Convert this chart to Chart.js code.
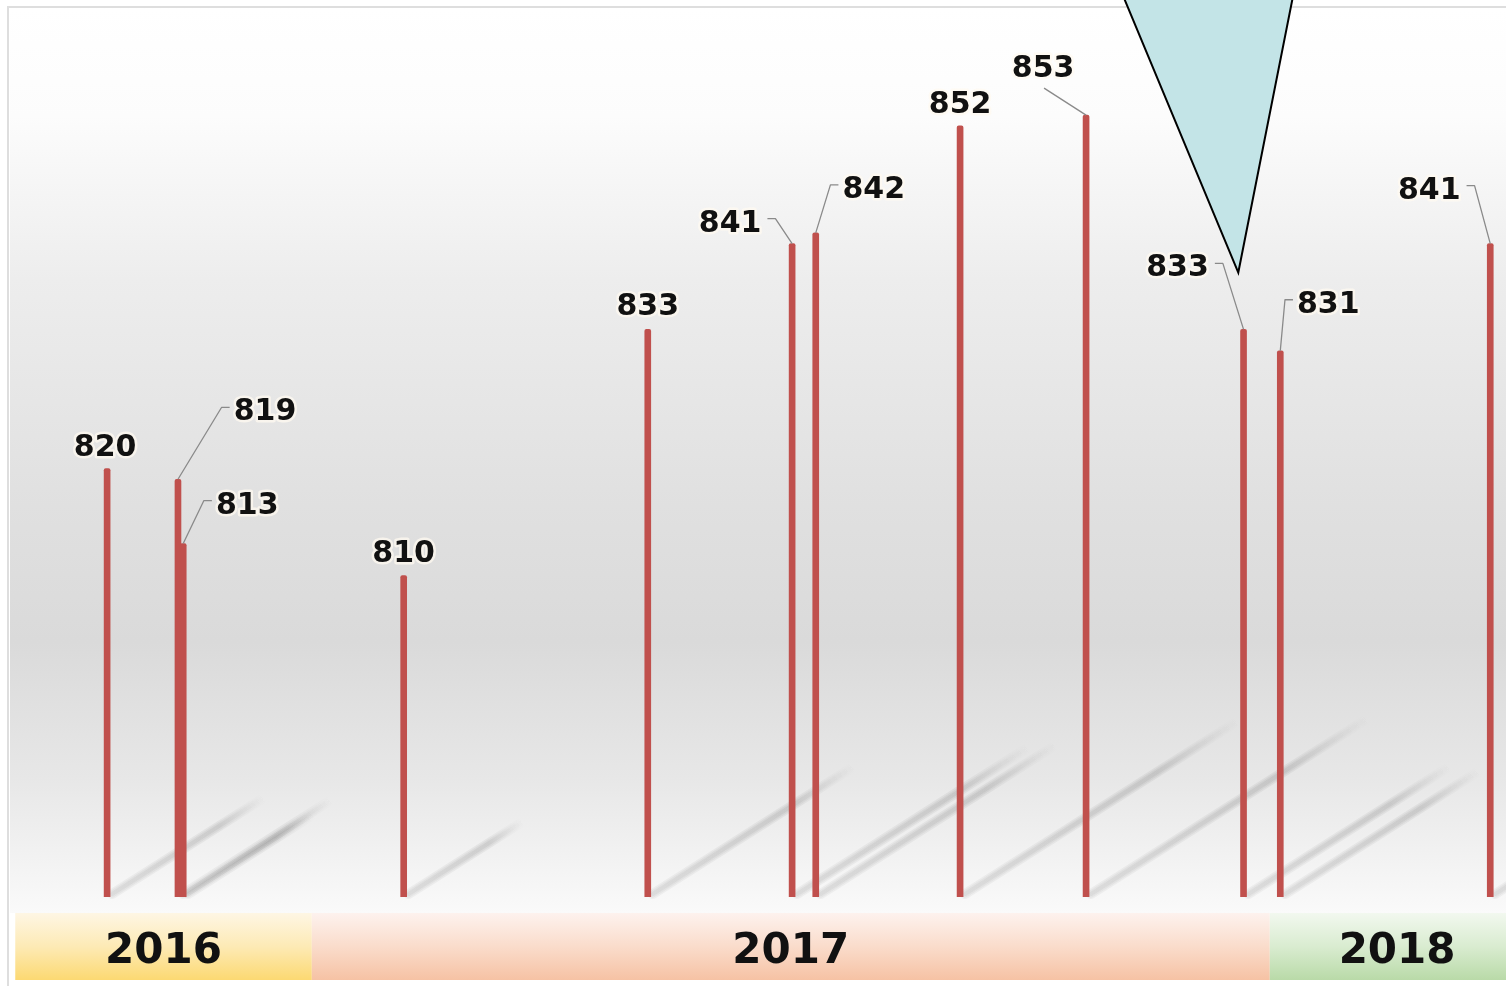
<!DOCTYPE html>
<html>
<head>
<meta charset="utf-8">
<script src="https://cdn.jsdelivr.net/npm/chart.js@4.4.0/dist/chart.umd.min.js"></script>
<style>
    html, body { margin: 0; padding: 0; background: #ffffff; overflow: hidden; }
    #chart { display: block; }
</style>
</head>
<body>
<canvas id="chart" width="1506" height="986"></canvas>
<script>
// --- data ---
const dates = ['2016-10-15', '2016-11-11', '2016-11-13', '2017-02-05', '2017-05-09', '2017-07-03',
               '2017-07-12', '2017-09-05', '2017-10-23', '2017-12-22', '2018-01-05', '2018-03-26'];
const values = [820, 819, 813, 810, 833, 841, 842, 852, 853, 833, 831, 841];

const years = ['2016', '2017', '2018'];
const yearStarts = ['2016-09-10', '2017-01-01', '2018-01-01'];
const yearEnds = ['2017-01-01', '2018-01-01', '2018-04-08'];

const axisStart = '2016-09-08';
const axisEnd = '2018-04-01';
const yMin = 780;
const yMax = 863;

// pointer (triangle) tip
const pointerDate = '2017-12-20';
const pointerValue = 838.3;

// --- label layout (text centre offset from bar top, px) ---
const labelOffsets = [[-2, -24], [87, -70], [64, -41], [0, -25], [0, -25], [-62, -23],
                      [58, -46], [0, -24], [-43, -49], [-66, -64], [48, -49], [-61, -56]];
const leaderKinds = ['', 'side', 'side', '', '', 'side', 'side', '', 'below', 'side', 'side', 'side'];

const ORIGIN = Date.parse('2017-01-01');
function toDay(d) { return (Date.parse(d) - ORIGIN) / 86400000; }

const LABEL_FONT = 'bold 30px "DejaVu Sans", Verdana, sans-serif';
const YEAR_FONT = 'bold 42px "DejaVu Sans", Verdana, sans-serif';
const BAND_TOP = 913;
const BAND_BOTTOM = 980;

const bandColors = [
    ['#fef6e4', '#fdeab5', '#fcd972'],
    ['#fdf2ee', '#fadccb', '#f6c2a4'],
    ['#f2f8ef', '#d9ecd0', '#b9daa8']
];

const backdrop = {
    id: 'backdrop',
    beforeDraw(chart) {
        const ctx = chart.ctx;
        const area = chart.chartArea;
        const x = chart.scales.x;
        ctx.save();
        ctx.fillStyle = '#ffffff';
        ctx.fillRect(0, 0, chart.width, chart.height);

        // plot background
        const g = ctx.createLinearGradient(0, area.top, 0, BAND_TOP);
        g.addColorStop(0, '#ffffff');
        g.addColorStop(0.12, '#fcfcfc');
        g.addColorStop(0.3, '#ededed');
        g.addColorStop(0.55, '#e0e0e0');
        g.addColorStop(0.7, '#dadada');
        g.addColorStop(0.85, '#e7e7e7');
        g.addColorStop(0.97, '#f6f6f6');
        g.addColorStop(1, '#fafafa');
        ctx.fillStyle = g;
        ctx.fillRect(area.left, area.top, chart.width - area.left, BAND_TOP - area.top);

        // year bands
        years.forEach(function (yr, i) {
            const x0 = x.getPixelForValue(toDay(yearStarts[i]));
            const x1 = x.getPixelForValue(toDay(yearEnds[i]));
            const bg = ctx.createLinearGradient(0, BAND_TOP, 0, BAND_BOTTOM);
            bg.addColorStop(0, bandColors[i][0]);
            bg.addColorStop(0.5, bandColors[i][1]);
            bg.addColorStop(1, bandColors[i][2]);
            ctx.fillStyle = bg;
            ctx.fillRect(x0, BAND_TOP, x1 - x0, BAND_BOTTOM - BAND_TOP);
        });

        // frame
        ctx.strokeStyle = '#dedede';
        ctx.lineWidth = 2;
        ctx.beginPath();
        ctx.moveTo(8, chart.height);
        ctx.lineTo(8, 7);
        ctx.lineTo(chart.width, 7);
        ctx.stroke();

        // --- soft diagonal shadows behind the bars (stacked strokes fake a blur) ---
        const y = chart.scales.y;
        const base = area.bottom;
        ctx.lineCap = 'round';
        dates.forEach(function (d, i) {
            const bx = x.getPixelForValue(toDay(d));
            const h = base - y.getPixelForValue(values[i]);
            const x0 = bx + 5, y0 = base - 3;
            const x1 = x0 + 0.356 * h, y1 = y0 - 0.226 * h;
            [10, 7, 4].forEach(function (lw) {
                const sg = ctx.createLinearGradient(x0, y0, x1, y1);
                sg.addColorStop(0, 'rgba(0,0,0,0.04)');
                sg.addColorStop(0.7, 'rgba(0,0,0,0.05)');
                sg.addColorStop(1, 'rgba(0,0,0,0)');
                ctx.strokeStyle = sg;
                ctx.lineWidth = lw;
                ctx.beginPath();
                ctx.moveTo(x0, y0);
                ctx.lineTo(x1, y1);
                ctx.stroke();
            });
        });
        ctx.restore();
    }
};

const annotations = {
    id: 'annotations',
    afterDatasetsDraw(chart) {
        const ctx = chart.ctx;
        const x = chart.scales.x;
        const y = chart.scales.y;
        const meta = chart.getDatasetMeta(0);
        ctx.save();

        // --- pointer triangle ---
        const tx = x.getPixelForValue(toDay(pointerDate));
        const ty = y.getPixelForValue(pointerValue);
        ctx.beginPath();
        ctx.moveTo(tx - 122, ty - 293);
        ctx.lineTo(tx + 58, ty - 293);
        ctx.lineTo(tx, ty);
        ctx.closePath();
        ctx.fillStyle = '#c3e4e7';
        ctx.fill();
        ctx.strokeStyle = '#000000';
        ctx.lineWidth = 2;
        ctx.lineJoin = 'miter';
        ctx.stroke();

        // --- value labels + leader lines ---
        ctx.font = LABEL_FONT;
        meta.data.forEach(function (el, i) {
            const text = String(values[i]);
            const w = ctx.measureText(text).width;
            const cx = el.x + labelOffsets[i][0];
            const cy = el.y + labelOffsets[i][1];
            const kind = leaderKinds[i];

            if (kind) {
                ctx.strokeStyle = '#8a8a8a';
                ctx.lineWidth = 1.3;
                ctx.beginPath();
                if (kind === 'below') {
                    ctx.moveTo(cx + 1, cy + 22);
                    ctx.lineTo(el.x, el.y);
                } else if (labelOffsets[i][0] > 0) {
                    const left = cx - w / 2;
                    ctx.moveTo(left - 4, cy - 2);
                    ctx.lineTo(left - 12, cy - 2);
                    ctx.lineTo(el.x, el.y);
                } else {
                    const right = cx + w / 2;
                    ctx.moveTo(right + 6, cy - 2);
                    ctx.lineTo(right + 14, cy - 2);
                    ctx.lineTo(el.x, el.y);
                }
                ctx.stroke();
            }

            ctx.textAlign = 'center';
            ctx.textBaseline = 'alphabetic';
            ctx.lineJoin = 'round';
            ctx.strokeStyle = 'rgba(255,250,240,0.75)';
            ctx.lineWidth = 5;
            ctx.strokeText(text, cx, cy + 11);
            ctx.fillStyle = '#111111';
            ctx.fillText(text, cx, cy + 11);
        });

        // --- year labels ---
        ctx.font = YEAR_FONT;
        ctx.fillStyle = '#111111';
        ctx.textAlign = 'center';
        ctx.textBaseline = 'alphabetic';
        years.forEach(function (yr, i) {
            const x0 = x.getPixelForValue(toDay(yearStarts[i]));
            const x1 = x.getPixelForValue(toDay(yearEnds[i]));
            ctx.fillText(yr, (x0 + x1) / 2, 963);
        });
        ctx.restore();
    }
};

new Chart(document.getElementById('chart'), {
    type: 'bar',
    data: {
        datasets: [{
            data: dates.map(function (d, i) { return { x: toDay(d), y: values[i] }; }),
            backgroundColor: '#c0504d',
            barThickness: 6,
            borderRadius: { topLeft: 2, topRight: 2 },
            borderSkipped: 'bottom'
        }]
    },
    options: {
        responsive: false,
        animation: false,
        layout: { padding: { left: 10, top: 8, right: 0, bottom: 89 } },
        plugins: { legend: { display: false }, tooltip: { enabled: false } },
        scales: {
            x: { type: 'linear', offset: false, min: toDay(axisStart), max: toDay(axisEnd), display: false },
            y: { min: yMin, max: yMax, display: false }
        }
    },
    plugins: [backdrop, annotations]
});
</script>
</body>
</html>
